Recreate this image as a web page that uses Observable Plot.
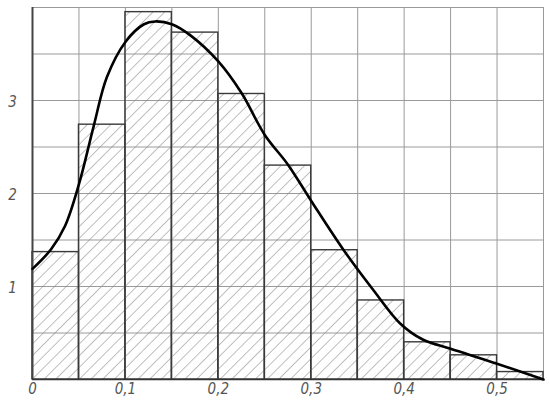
<!DOCTYPE html>
<html>
<head>
<meta charset="utf-8">
<script src="https://cdn.jsdelivr.net/npm/d3@7"></script>
<script src="https://cdn.jsdelivr.net/npm/@observablehq/plot@0.6"></script>
<style>
  html, body { margin: 0; padding: 0; background: #fff; }
  svg { display: block; }
</style>
</head>
<body>
<div id="chart"></div>
<script>
// Histogram bins (left edges) and heights
const binStarts = [0, 0.05, 0.10, 0.15, 0.20, 0.25, 0.30, 0.35, 0.40, 0.45, 0.50];
const binWidth = 0.05;
const binHeights = [1.37, 2.74, 3.95, 3.73, 3.07, 2.30, 1.39, 0.85, 0.40, 0.26, 0.08];

// Smooth density curve
const curveX = [0, 0.020, 0.035, 0.050, 0.066, 0.080, 0.100, 0.120, 0.132, 0.150, 0.170, 0.200, 0.225, 0.250, 0.275, 0.300, 0.335, 0.367, 0.396, 0.420, 0.450, 0.500, 0.550];
const curveY = [1.19, 1.40, 1.65, 2.10, 2.73, 3.25, 3.63, 3.82, 3.85, 3.82, 3.70, 3.42, 3.08, 2.63, 2.31, 1.92, 1.39, 0.96, 0.60, 0.43, 0.33, 0.17, 0.00];

// Grid and tick labels
const xGrid = [0, 0.05, 0.10, 0.15, 0.20, 0.25, 0.30, 0.35, 0.40, 0.45, 0.50, 0.55];
const yGrid = [0, 0.5, 1, 1.5, 2, 2.5, 3, 3.5, 4];
const xTicks = [0, 0.1, 0.2, 0.3, 0.4, 0.5];
const xTickLabels = ["0", "0,1", "0,2", "0,3", "0,4", "0,5"];
const yTicks = [1, 2, 3];
const yTickLabels = ["1", "2", "3"];

const bars = binStarts.map((s, i) => ({x1: s, x2: s + binWidth, y: binHeights[i]}));
const curve = curveX.map((x, i) => ({x, y: curveY[i]}));
const xLab = xTicks.map((x, i) => ({x, t: xTickLabels[i]}));
const yLab = yTicks.map((y, i) => ({y, t: yTickLabels[i]}));

const font = "'Liberation Sans Narrow', 'DejaVu Sans Condensed', 'Roboto', sans-serif";

const svg = Plot.plot({
  width: 550,
  height: 404,
  marginLeft: 32,
  marginTop: 7,
  marginRight: 7,
  marginBottom: 25,
  x: {domain: [0, 0.55], axis: null},
  y: {domain: [0, 4], axis: null},
  style: {background: "#fff"},
  marks: [
    Plot.ruleX(xGrid, {stroke: "#9a9a9a", strokeWidth: 1}),
    Plot.ruleY(yGrid, {stroke: "#9a9a9a", strokeWidth: 1}),
    Plot.rectY(bars, {x1: "x1", x2: "x2", y: "y", fill: "url(#hatch)", stroke: "#3a3a3a", strokeWidth: 1.4}),
    Plot.ruleX([0], {stroke: "#444", strokeWidth: 2}),
    Plot.ruleY([0], {stroke: "#333", strokeWidth: 1.5}),
    Plot.line(curve, {x: "x", y: "y", curve: "catmull-rom", stroke: "#000", strokeWidth: 2.6}),
    Plot.text(xLab, {x: "x", frameAnchor: "bottom", dy: 14, text: "t", fill: "#555", fontSize: 15, fontStyle: "italic", fontFamily: font}),
    Plot.text(yLab, {y: "y", frameAnchor: "left", dx: -20, dy: 2, textAnchor: "middle", text: "t", fill: "#555", fontSize: 15, fontStyle: "italic", fontFamily: font})
  ]
});

const ns = "http://www.w3.org/2000/svg";
const defs = document.createElementNS(ns, "defs");
const pat = document.createElementNS(ns, "pattern");
pat.setAttribute("id", "hatch");
pat.setAttribute("patternUnits", "userSpaceOnUse");
pat.setAttribute("width", "8.3");
pat.setAttribute("height", "8.3");
pat.setAttribute("patternTransform", "rotate(45)");
const ln = document.createElementNS(ns, "line");
ln.setAttribute("x1", "0"); ln.setAttribute("y1", "0");
ln.setAttribute("x2", "0"); ln.setAttribute("y2", "8.3");
ln.setAttribute("stroke", "#8a8a8a");
ln.setAttribute("stroke-width", "1.1");
pat.appendChild(ln);
defs.appendChild(pat);
svg.insertBefore(defs, svg.firstChild);

document.getElementById("chart").appendChild(svg);
</script>
</body>
</html>
